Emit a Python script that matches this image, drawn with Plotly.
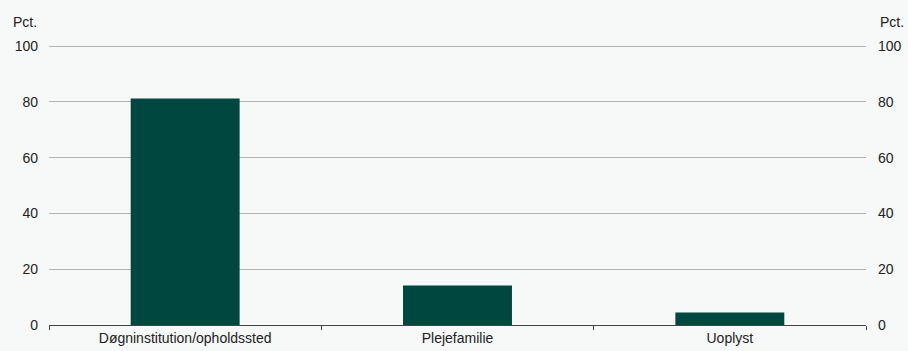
import plotly.graph_objects as go

categories = ["Døgninstitution/opholdssted", "Plejefamilie", "Uoplyst"]
values = [81.2, 14.2, 4.5]
tick_vals = [0, 20, 40, 60, 80, 100]

BG = "#f7f8f8"
BAR = "#00473f"
GRID = "#b3b3b3"
FONT = "Liberation Sans, Arial, sans-serif"
FS = 14

fig = go.Figure()
fig.add_trace(go.Bar(x=categories, y=values, marker=dict(color=BAR, line=dict(width=0)),
                     showlegend=False, hoverinfo="x+y"))
fig.add_trace(go.Scatter(x=categories, y=values, yaxis="y2", mode="markers",
                         marker=dict(opacity=0), showlegend=False, hoverinfo="skip"))

fig.update_layout(
    width=908, height=351,
    margin=dict(l=49, r=42, t=45, b=26, autoexpand=False),
    paper_bgcolor=BG, plot_bgcolor=BG,
    font=dict(family=FONT, size=FS, color="#222222"),
    bargap=0.6,
    xaxis=dict(
        type="category", tickson="boundaries", ticks="outside", ticklen=4,
        tickcolor="#444444", showline=True, linecolor="#444444", linewidth=1,
        showgrid=False, tickfont=dict(size=FS, color="#222222"),
    ),
    yaxis=dict(
        range=[0, 100.4], tickvals=tick_vals, showgrid=True, gridcolor=GRID,
        gridwidth=1, zeroline=False, ticks="", ticklabelstandoff=10,
        tickfont=dict(size=FS, color="#222222"), fixedrange=True,
    ),
    yaxis2=dict(
        range=[0, 100.4], tickvals=tick_vals, overlaying="y", side="right",
        showgrid=False, zeroline=False, ticks="", ticklabelstandoff=11,
        tickfont=dict(size=FS, color="#222222"), fixedrange=True,
    ),
    annotations=[
        dict(text="Pct.", xref="paper", yref="paper", x=0, y=1, xanchor="right",
             yanchor="bottom", xshift=-10, yshift=13, showarrow=False,
             font=dict(size=FS, color="#222222")),
        dict(text="Pct.", xref="paper", yref="paper", x=1, y=1, xanchor="left",
             yanchor="bottom", xshift=12, yshift=13, showarrow=False,
             font=dict(size=FS, color="#222222")),
    ],
)

fig.write_html(
    "out.html",
    config={"displayModeBar": False},
    post_script="document.body.style.margin='0';document.body.style.background='" + BG + "';",
)
